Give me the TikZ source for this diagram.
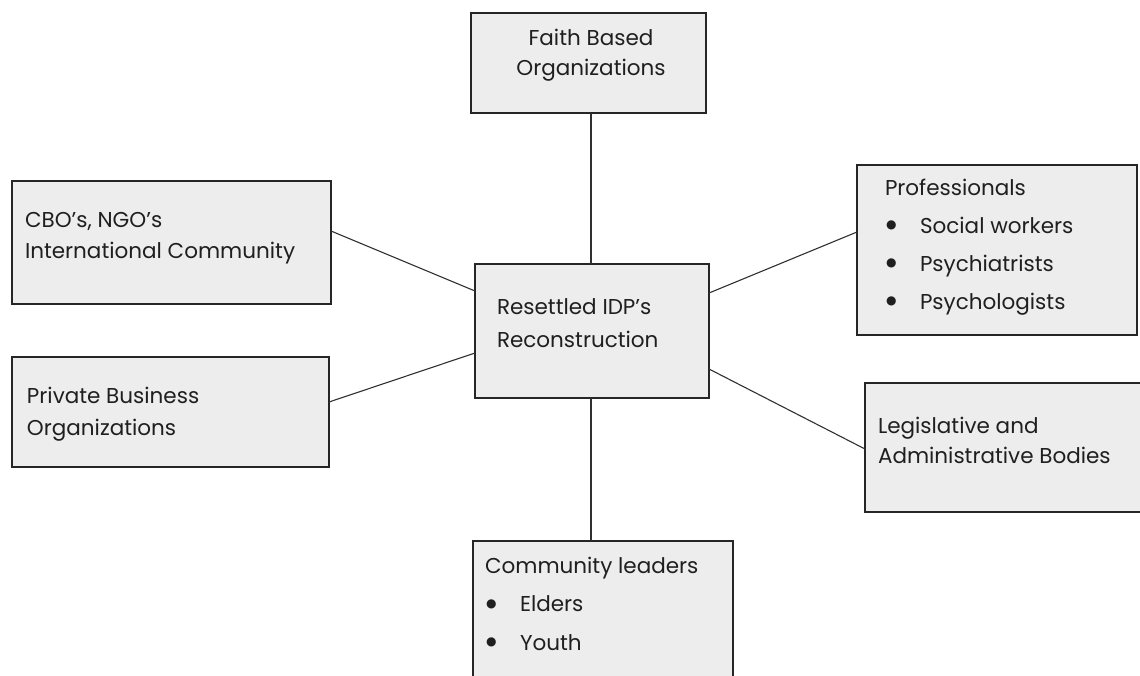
\documentclass[tikz,border=0pt]{standalone}
\usepackage{fontspec}
\setmainfont{Poppins}
\newfontfamily\bulfont{DejaVu Sans}
\definecolor{boxfill}{HTML}{EDEDED}
\definecolor{boxline}{HTML}{262626}
\definecolor{linkline}{HTML}{303030}
\newcommand{\bul}{\makebox[35pt][l]{\hspace{1pt}\raisebox{4.5pt}{\bulfont\fontsize{12}{12}\selectfont ●}}}
\begin{document}
\begin{tikzpicture}[x=1pt,y=-1pt,
  box/.style={draw=boxline,line width=2.2pt,fill=boxfill,inner sep=0pt,outer sep=0pt},
  txt/.style={anchor=base west,inner sep=0pt,outer sep=0pt,text=black!88,font=\fontsize{21.5}{31}\selectfont},
  link/.style={draw=linkline,line width=1.1pt}]
\useasboundingbox (0,0) rectangle (1140,675);
\clip (0,0) rectangle (1140,675);
% boxes
\node[box,minimum width=235pt,minimum height=100pt] (faith) at (588.5,63) {};
\node[box,minimum width=319pt,minimum height=123pt] (cbo) at (171.5,242.5) {};
\node[box,minimum width=317pt,minimum height=110pt] (priv) at (170.5,412) {};
\node[box,minimum width=234pt,minimum height=134pt] (ctr) at (592,331) {};
\node[box,minimum width=280pt,minimum height=170pt] (prof) at (997,250) {};
\node[box,minimum width=285pt,minimum height=129pt] (legis) at (1007.5,447.5) {};
\node[box,minimum width=260pt,minimum height=149pt] (comm) at (603,615.5) {};
% texts
\node[txt,anchor=base,font=\fontsize{21.5}{30}\selectfont] (faitht) at (591,45)
  {\begin{tabular}[t]{@{}c@{}}Faith Based\\Organizations\end{tabular}};
\node[txt] (cbot) at (25,227)
  {\begin{tabular}[t]{@{}l@{}}CBO’s, NGO’s\\International Community\end{tabular}};
\node[txt,font=\fontsize{21.5}{32}\selectfont] (privt) at (27,403)
  {\begin{tabular}[t]{@{}l@{}}Private Business\\Organizations\end{tabular}};
\node[txt,font=\fontsize{21.5}{33}\selectfont] (ctrt) at (497,314)
  {\begin{tabular}[t]{@{}l@{}}Resettled IDP’s\\Reconstruction\end{tabular}};
\node[txt,font=\fontsize{21.5}{30}\selectfont] (legist) at (878,433)
  {\begin{tabular}[t]{@{}l@{}}Legislative and\\Administrative Bodies\end{tabular}};
\node[txt,font=\fontsize{21.5}{38}\selectfont] (proft) at (885,195)
  {\begin{tabular}[t]{@{}l@{}}Professionals\\\bul Social workers\\\bul Psychiatrists\\\bul Psychologists\end{tabular}};
\node[txt,font=\fontsize{21.5}{38.5}\selectfont] (commt) at (485,573)
  {\begin{tabular}[t]{@{}l@{}}Community leaders\\\bul Elders\\\bul Youth\end{tabular}};
% connectors
\draw[link] ([xshift=120pt]faith.south west) -- ([xshift=116pt]ctr.north west);
\draw[link] ([xshift=116pt]ctr.south west) -- ([xshift=118pt]comm.north west);
\draw[link] ([yshift=-50pt]cbo.north east) -- ([yshift=-27pt]ctr.north west);
\draw[link] ([yshift=-45pt]priv.north east) -- ([yshift=-89pt]ctr.north west);
\draw[link] ([yshift=-29pt]ctr.north east) -- ([yshift=-67pt]prof.north west);
\draw[link] ([yshift=-105pt]ctr.north east) -- ([yshift=-66pt]legis.north west);
\end{tikzpicture}
\end{document}
